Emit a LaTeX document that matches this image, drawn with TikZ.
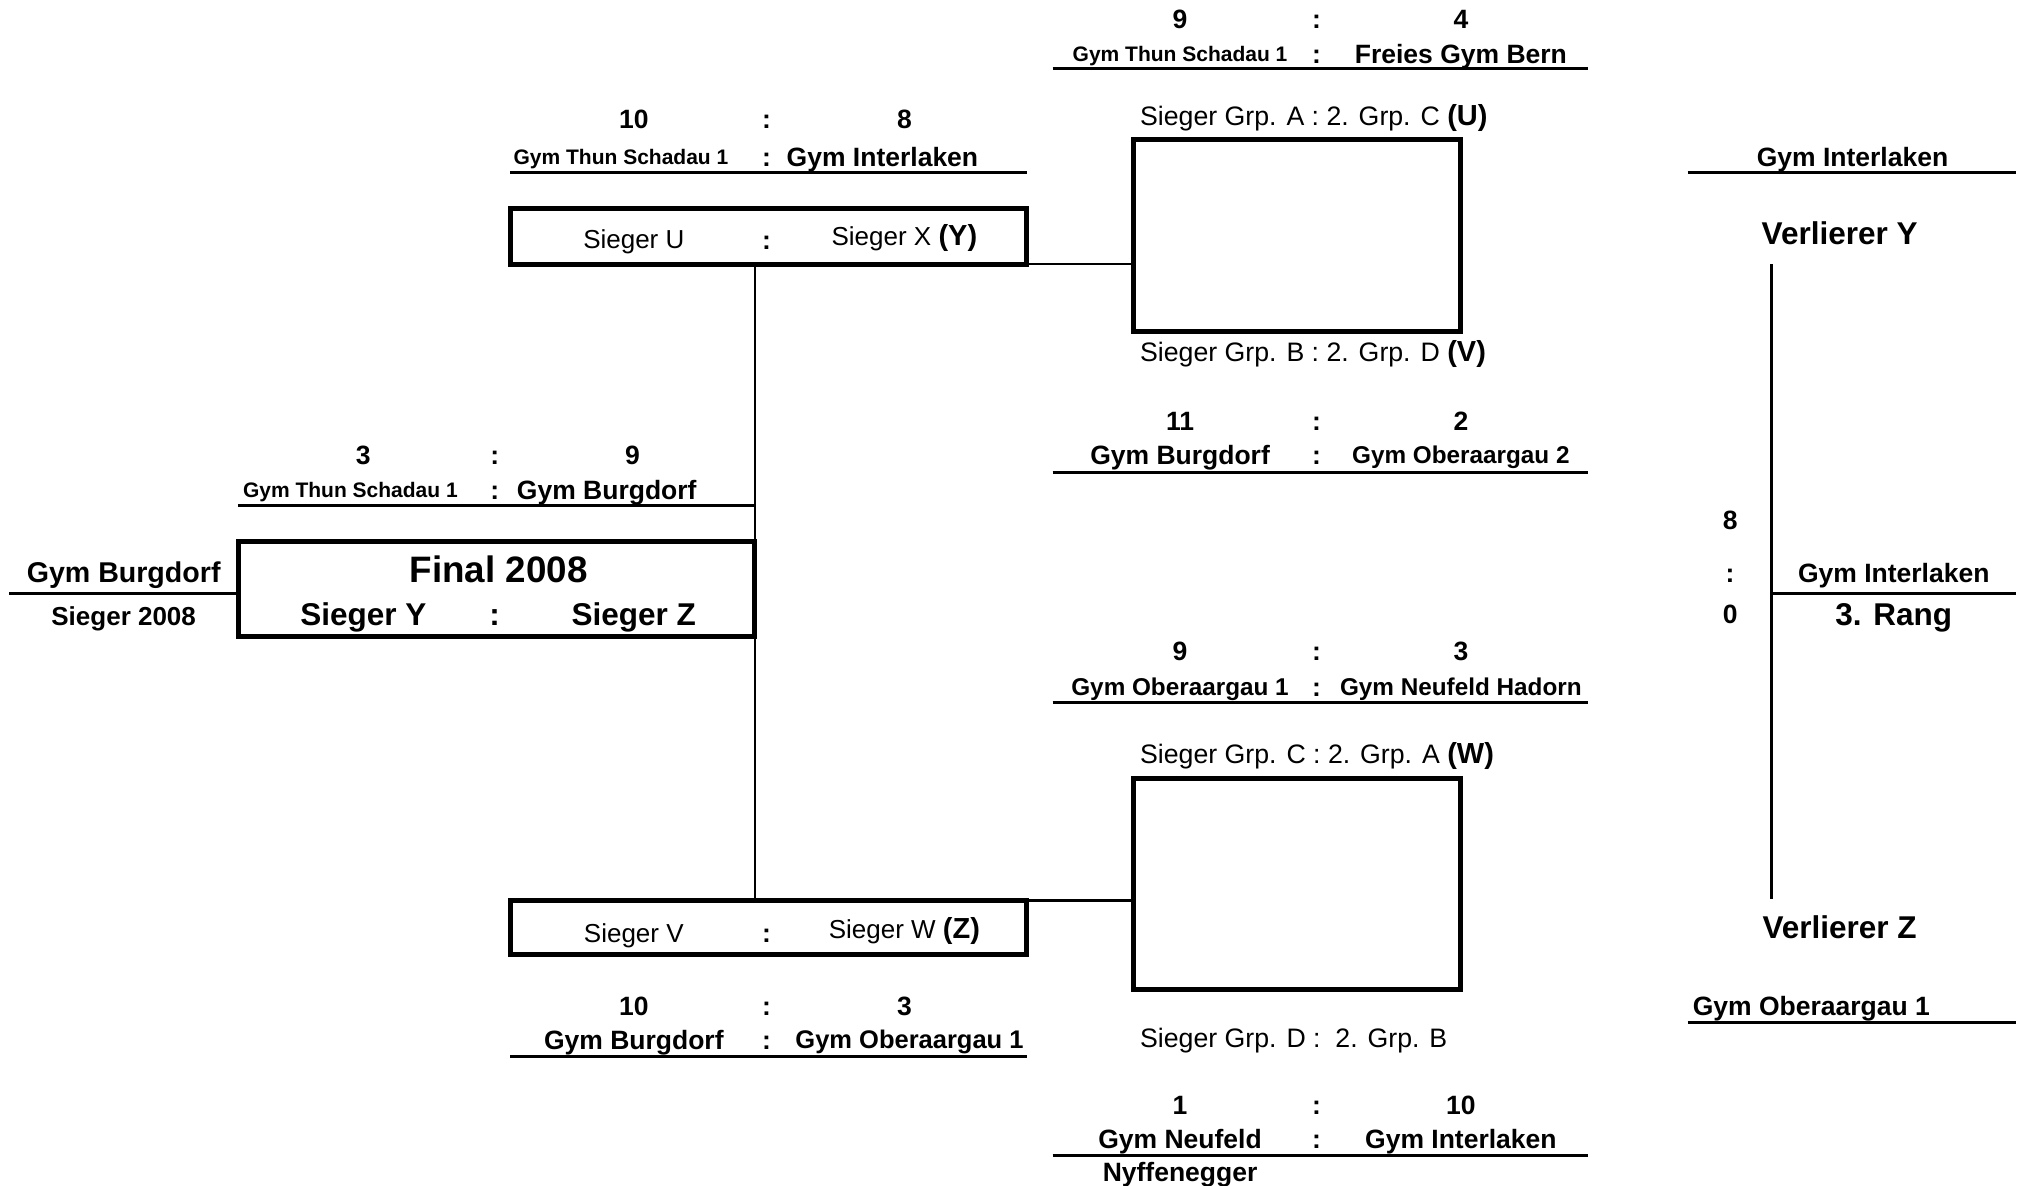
\documentclass[tikz,border=0pt]{standalone}
\usepackage{fontspec}
\setmainfont{Liberation Sans}
\usetikzlibrary{fit}
\newcommand\fsz[1]{\fontsize{#1}{#1}\selectfont}
\tikzset{
  every node/.style={inner sep=0pt, outer sep=0pt},
  bsz/.style={font=\fsz{#1}\bfseries, anchor=base, yshift=-0.358*#1pt},
  rsz/.style={font=\fsz{#1}, anchor=base, yshift=-0.358*#1pt},
  small/.style={bsz=21},
  med/.style={bsz=26.5},
  medn/.style={bsz=24.3},
  big/.style={bsz=31.5},
  reg/.style={rsz=26},
  grp/.style={rsz=26.7, anchor=base west},
  gamebox/.style={draw, line width=5pt, fit={#1}},
  uline/.style={line width=3pt},
  link/.style={line width=2.8pt},
}
\begin{document}
\begin{tikzpicture}[x=1.2883pt, y=-1.2883pt]
\useasboundingbox (0,0) rectangle (1568,920.6);

% ---------- Group U ----------
\node[med] (u9) at (916,15) {9};
\node[med] (uc1) at (1022,15) {:};
\node[med] (u4) at (1134,15) {4};
\node[small] (ua) at (916,42) {Gym Thun Schadau 1};
\node[med] (uc2) at (1022,42) {:};
\node[med] (ub) at (1134,42) {Freies Gym Bern};
\coordinate (l1a) at (817,53); \coordinate (l1b) at (1233,53);
\draw[uline] (l1a) -- (l1b);
\node[grp] (uL) at (885,90) {Sieger Grp. A : 2. Grp. C {\bfseries\fsz{29}(U)}};
\coordinate (bu1) at (880,108); \coordinate (bu2) at (1134,257);
\node[gamebox={(bu1)(bu2)}] (bU) {};
\node[grp] (vL) at (885,273) {Sieger Grp. B : 2. Grp. D {\bfseries\fsz{29}(V)}};
\node[med] (v11) at (916,327) {11};
\node[med] (vc1) at (1022,327) {:};
\node[med] (v2) at (1134,327) {2};
\node[med] (va) at (916,353) {Gym Burgdorf};
\node[med] (vc2) at (1022,353) {:};
\node[medn] (vb) at (1134,353) {Gym Oberaargau 2};
\coordinate (l2a) at (817,367); \coordinate (l2b) at (1233,367);
\draw[uline] (l2a) -- (l2b);

% ---------- Group W ----------
\node[med] (w9) at (916,505) {9};
\node[med] (wc1) at (1022,505) {:};
\node[med] (w3) at (1134,505) {3};
\node[medn] (wa) at (916,533) {Gym Oberaargau 1};
\node[med] (wc2) at (1022,533) {:};
\node[medn] (wb) at (1134,533) {Gym Neufeld Hadorn};
\coordinate (l3a) at (817,545); \coordinate (l3b) at (1233,545);
\draw[uline] (l3a) -- (l3b);
\node[grp] (wL) at (885,585) {Sieger Grp. C : 2. Grp. A {\bfseries\fsz{29}(W)}};
\coordinate (bw1) at (880,604); \coordinate (bw2) at (1134,768);
\node[gamebox={(bw1)(bw2)}] (bW) {};
\node[grp] (xL) at (885,806) {Sieger Grp. D :\ \ 2. Grp. B};
\node[med] (x1) at (916,858) {1};
\node[med] (xc1) at (1022,858) {:};
\node[med] (x10) at (1134,858) {10};
\node[med] (xa) at (916,884) {Gym Neufeld};
\node[med] (xc2) at (1022,884) {:};
\node[med] (xb) at (1134,884) {Gym Interlaken};
\coordinate (l4a) at (817,897); \coordinate (l4b) at (1233,897);
\draw[uline] (l4a) -- (l4b);
\node[med] (xa2) at (916,910) {Nyffenegger};

% ---------- Semifinal Y ----------
\node[med] (y10) at (492,92) {10};
\node[med] (yc1) at (595,92) {:};
\node[med] (y8) at (702,92) {8};
\node[small] (ya) at (482,122) {Gym Thun Schadau 1};
\node[med] (yc2) at (595,122) {:};
\node[med] (yb) at (685,122) {Gym Interlaken};
\coordinate (l5a) at (396,134); \coordinate (l5b) at (797,134);
\draw[uline] (l5a) -- (l5b);
\coordinate (by1) at (396,162); \coordinate (by2) at (797,205);
\node[gamebox={(by1)(by2)}] (bY) {};
\node[reg] (yu) at (492,186) {Sieger U};
\node[med] (yc3) at (595,186) {:};
\node[reg] (yx) at (702,183) {Sieger X {\bfseries\fsz{29}(Y)}};

% ---------- Semifinal Z ----------
\coordinate (bz1) at (396,699); \coordinate (bz2) at (797,741);
\node[gamebox={(bz1)(bz2)}] (bZ) {};
\node[reg] (zv) at (492,724) {Sieger V};
\node[med] (zc3) at (595,724) {:};
\node[reg] (zw) at (702,721) {Sieger W {\bfseries\fsz{29}(Z)}};
\node[med] (z10) at (492,781) {10};
\node[med] (zc1) at (595,781) {:};
\node[med] (z3) at (702,781) {3};
\node[med] (za) at (492,807) {Gym Burgdorf};
\node[med] (zc2) at (595,807) {:};
\node[bsz=25.5] (zb) at (706,807) {Gym Oberaargau 1};
\coordinate (l6a) at (396,820); \coordinate (l6b) at (797,820);
\draw[uline] (l6a) -- (l6b);

% ---------- Final ----------
\node[med] (f3) at (282,353) {3};
\node[med] (fc1) at (384,353) {:};
\node[med] (f9) at (491,353) {9};
\node[small] (fa) at (272,380) {Gym Thun Schadau 1};
\node[med] (fc2) at (384,380) {:};
\node[med] (fb) at (471,380) {Gym Burgdorf};
\coordinate (l7a) at (185,392); \coordinate (l7b) at (586,392);
\draw[uline] (l7a) -- (l7b);
\coordinate (bf1) at (185,420); \coordinate (bf2) at (586,494);
\node[gamebox={(bf1)(bf2)}] (fin) {};
\node[bsz=36.8] (ftitle) at (387,442) {Final 2008};
\node[big] (fy) at (282,477) {Sieger Y};
\node[big] (fc3) at (384,477) {:};
\node[big] (fz) at (492,477) {Sieger Z};
\node[bsz=28.6] (champ) at (96,444) {Gym Burgdorf};
\node[bsz=26] (champL) at (96,478) {Sieger 2008};
\coordinate (lw) at (7,461);
\draw[uline] (lw) -- (lw -| fin.west);

% ---------- Connectors ----------
\draw[link] (bY.south east) -- (bY.south east -| bU.west);
\draw[link] (bZ.north east) -- (bZ.north east -| bW.west);
\draw[link] (bY.south -| fin.east) -- (fin.north east);
\draw[link] (fin.south east) -- (fin.south east |- bZ.north);

% ---------- 3rd place ----------
\node[med] (ti) at (1438,122) {Gym Interlaken};
\coordinate (l8a) at (1310,134); \coordinate (l8b) at (1565,134);
\draw[uline] (l8a) -- (l8b);
\node[big] (vy) at (1428,181) {Verlierer Y};
\coordinate (rt) at (1375,205); \coordinate (rb) at (1375,698);
\draw[link] (rt) -- (rb);
\coordinate (rm) at (1375,461); \coordinate (re) at (1565,461);
\draw[uline] (rm) -- (re);
\node[med] (t8) at (1343,404) {8};
\node[med] (tc) at (1343,445) {:};
\node[med] (t0) at (1343,477) {0};
\node[med] (tw) at (1470,445) {Gym Interlaken};
\node[big] (tr) at (1470,477) {3. Rang};
\node[big] (vz) at (1428,720) {Verlierer Z};
\node[med] (to) at (1406,781) {Gym Oberaargau 1};
\coordinate (l9a) at (1310,794); \coordinate (l9b) at (1565,794);
\draw[uline] (l9a) -- (l9b);
\end{tikzpicture}
\end{document}
